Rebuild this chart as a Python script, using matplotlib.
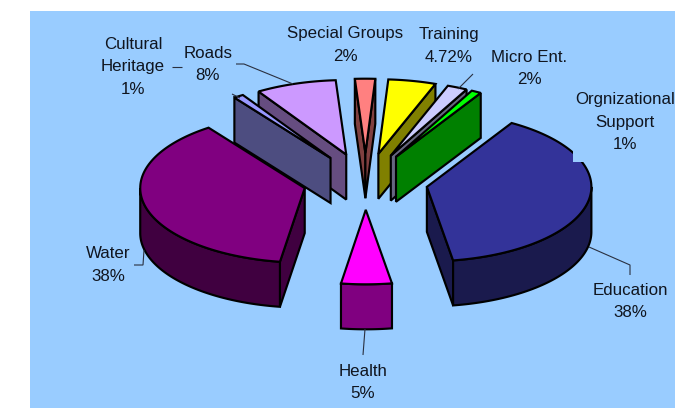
import numpy as np
import matplotlib
matplotlib.use("Agg")
import matplotlib.pyplot as plt
from matplotlib.patches import Polygon, Rectangle

# ---- data (clockwise from Education) ----
categories = ["Education", "Health", "Water", "Cultural\nHeritage", "Roads",
              "Special Groups", "Training", "Micro Ent.", "Orgnizational\nSupport"]
# slice sizes (Education's slice is drawn a little wider than its label)
values = [39.2, 5, 38, 1, 8, 2, 4.72, 2, 1]
value_labels = ["38%", "5%", "38%", "1%", "8%", "2%", "4.72%", "2%", "1%"]

top_colors = ["#333399", "#FF00FF", "#800080", "#9999FF", "#CC99FF",
              "#FF8080", "#FFFF00", "#CCCCFF", "#00FF00"]
side_colors = ["#1A1A4D", "#800080", "#400040", "#4D4D80", "#664D80",
               "#804040", "#808000", "#666680", "#008000"]
draw_order = [5, 6, 4, 7, 8, 3, 0, 2, 1]

label_xy = [(630, 301.5), (363, 382.5), (108, 265), (133, 67), (208, 64.5),
            (345, 45), (449, 46), (529, 68.5), (625, 122)]

leaders = [
    [(589, 247), (630, 265), (630, 275)],
    [(365, 329), (363, 355)],
    [(134, 265), (143, 265), (144, 250)],
    [(172, 67), (182, 67)],
    [(232, 94), (240, 98)],
    [(236, 64), (244, 64), (293, 84)],
    [(473, 74), (458, 89)],
]

# ---- geometry of the 3-D projection (pixel units of the canvas) ----
CX, CY = 365.5, 181.5
RX, RY = 164.5, 74.5
DEPTH = 45.0
EXPLODE = 0.38
START = 59.0
LW = 1.55

fig = plt.figure(figsize=(7.0, 4.08), dpi=100, facecolor="white")
ax = fig.add_axes([30 / 700, 0, 645 / 700, 397 / 408])
ax.set_xlim(30, 675)
ax.set_ylim(408, 11)
ax.set_facecolor("#99CCFF")
ax.set_xticks([])
ax.set_yticks([])
for s in ax.spines.values():
    s.set_visible(False)

plt.rcParams["font.family"] = ["Liberation Sans", "DejaVu Sans"]

fractions = np.array(values, dtype=float) / np.sum(values) * 360.0
ends = START - np.cumsum(fractions)
starts = ends + fractions


def arc(t0, t1, ax0, ay0):
    n = max(int(abs(t1 - t0) * 1.5) + 2, 3)
    t = np.radians(np.linspace(t0, t1, n))
    return np.column_stack([ax0 + RX * np.cos(t), ay0 - RY * np.sin(t)])


def face(points, color, z):
    ax.add_patch(Polygon(points, closed=True, facecolor=color, edgecolor="black",
                         linewidth=LW, joinstyle="miter", zorder=z))


z = 2
for i in draw_order:
    t0, t1 = starts[i], ends[i]
    mid = np.radians((t0 + t1) / 2)
    ax0 = CX + EXPLODE * RX * np.cos(mid)
    ay0 = CY - EXPLODE * RY * np.sin(mid)
    apex = np.array([ax0, ay0])
    down = np.array([0, DEPTH])

    # cut faces
    for t, visible in ((t0, np.cos(np.radians(t0)) < 0),
                       (t1, np.cos(np.radians(t1)) > 0)):
        if visible:
            p = arc(t, t, ax0, ay0)[0]
            face([apex, p, p + down, apex + down], side_colors[i], z)
            z += 1

    # outer rim: parts of the arc facing the viewer (sin t < 0)
    lo = max(t1, -180.0)
    hi = min(t0, 0.0)
    if hi > lo:
        rim = arc(hi, lo, ax0, ay0)
        face(np.vstack([rim, (rim + down)[::-1]]), side_colors[i], z)
        z += 1
    # top face
    top = arc(t0, t1, ax0, ay0)
    face(np.vstack([apex, top]), top_colors[i], z)
    z += 1

# background-coloured box left behind the Orgnizational Support label
ax.add_patch(Rectangle((573, 150), 12, 12, facecolor="#99CCFF", edgecolor="none", zorder=z))
z += 1

for seg in leaders:
    xs, ys = zip(*seg)
    ax.plot(xs, ys, color="#2A3040", lw=0.8, zorder=z,
            solid_capstyle="butt", solid_joinstyle="miter")

for cat, val, (x, y) in zip(categories, value_labels, label_xy):
    ax.text(x, y, f"{cat}\n{val}", ha="center", va="center", fontsize=12.2,
            family=["Liberation Sans", "DejaVu Sans"], color="#10151f",
            linespacing=1.62, zorder=z + 1, clip_on=True)

fig.savefig("out.png", dpi=100, facecolor="white")
